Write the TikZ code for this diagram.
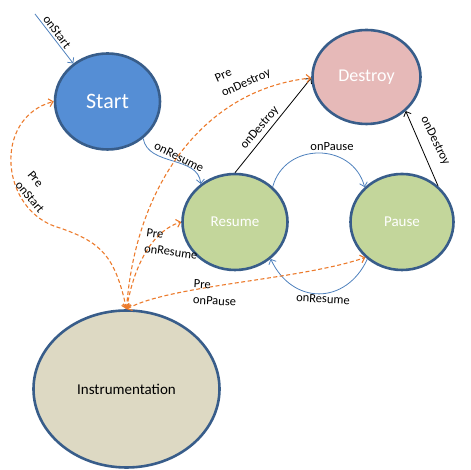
\documentclass[tikz,border=0pt]{standalone}
\usepackage{fontspec}
\setmainfont{Carlito}
\usetikzlibrary{shapes.geometric,arrows.meta}
\definecolor{rim}{HTML}{385D8A}
\definecolor{flow}{HTML}{4F81BD}
\definecolor{hookc}{HTML}{EC7B2C}
\definecolor{startfill}{HTML}{558ED5}
\definecolor{destroyfill}{HTML}{E6B9B8}
\definecolor{livefill}{HTML}{C3D69B}
\definecolor{instrfill}{HTML}{DDD9C3}
\begin{document}
\begin{tikzpicture}[x=1pt,y=1pt,
  state/.style={ellipse,draw=rim,line width=2.6pt,inner sep=0pt},
  trans/.style={draw=flow,line width=0.8pt,-{Straight Barb[length=4pt,width=8pt]}},
  kill/.style={draw=black,line width=0.8pt,-{Straight Barb[length=4pt,width=8pt]}},
  prehook/.style={draw=hookc,line width=1.1pt,dash pattern=on 4pt off 2.5pt,
    {Straight Barb[length=4pt,width=8pt]}-{Straight Barb[length=4pt,width=8pt]}},
  lbl/.style={font=\fontsize{12.5}{16}\selectfont,inner sep=0pt,align=left}]
\useasboundingbox (0,0) rectangle (471,470);
\node[state,fill=startfill,text=white,minimum width=105,minimum height=96,font=\fontsize{22}{26}\selectfont] (start) at (107.5,368.5) {Start};
\node[state,fill=destroyfill,text=white,minimum width=108,minimum height=94,font=\fontsize{18}{22}\selectfont] (destroy) at (366.5,393) {Destroy};
\node[state,fill=livefill,text=white,minimum width=105,minimum height=96,font=\fontsize{15}{18}\selectfont] (resume) at (235,248) {Resume};
\node[state,fill=livefill,text=white,minimum width=103,minimum height=96,font=\fontsize{15}{18}\selectfont] (pause) at (402,248) {Pause};
\node[state,fill=instrfill,minimum width=186,minimum height=157,font=\fontsize{15}{18}\selectfont] (instr) at (126.5,389-308) {Instrumentation};
\coordinate (entry) at (35,456);
\draw[trans] (entry) -- (start.132);
\draw[trans] (start.-46) to[out=-80,in=95] (resume.132);
\draw[kill] (resume.90) -- (destroy.181);
\draw[trans] (resume.43) to[out=75,in=105,looseness=1.3] (pause.137);
\draw[kill] (pause.45) -- (destroy.-41);
\draw[trans] (pause.227) to[out=-115,in=-65,looseness=1.35] (resume.-46);
\draw[prehook] (instr.north) .. controls (115,215) and (100,228) .. (60,242) .. controls (0,258) and (-8,352) .. (start.180);
\draw[prehook] (instr.north) .. controls (135,280) and (200,380) .. (destroy.181);
\draw[prehook] (instr.north) .. controls (135,210) and (155,240) .. (resume.west);
\draw[prehook] (instr.north) .. controls (170,185) and (300,190) .. (pause.224);
\node[lbl,rotate=-53] (lstart) at (57,438) {onStart};
\node[lbl,rotate=-27] (lresume) at (179,313) {onResume};
\node[lbl,rotate=50] (ldestroya) at (260,342) {onDestroy};
\node[lbl] (lpause) at (332,323) {onPause};
\node[lbl,rotate=-64] (ldestroyb) at (435,329) {onDestroy};
\node[lbl,rotate=-3] (lresumeb) at (323,171) {onResume};
\node[lbl,rotate=-50] (prestart) at (36,278) {Pre\\onStart};
\node[lbl,rotate=24] (predestroy) at (243,394) {Pre\\onDestroy};
\node[lbl,rotate=-8] (preresume) at (172,226) {Pre\\onResume};
\node[lbl,rotate=-3] (prepause) at (215,177) {Pre\\onPause};
\end{tikzpicture}
\end{document}
